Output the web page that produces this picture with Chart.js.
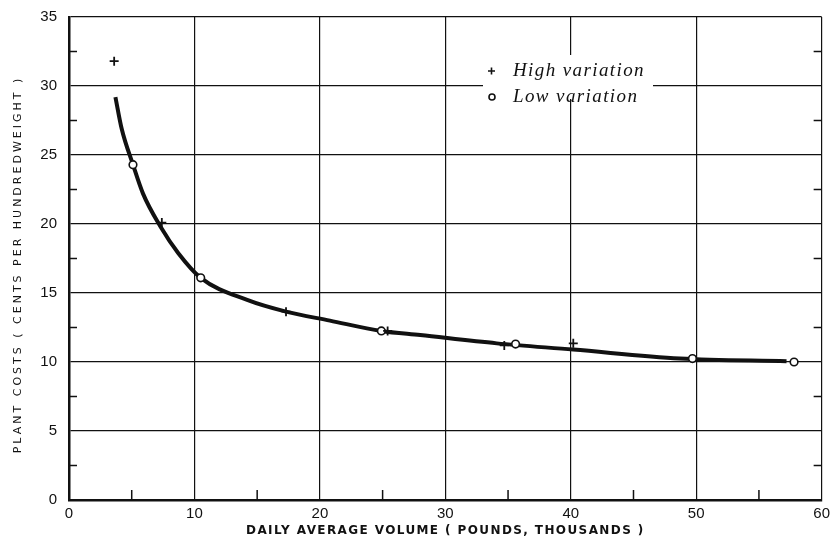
<!DOCTYPE html>
<html lang="en">
<head>
<meta charset="UTF-8" />
<title>Plant costs vs daily average volume</title>
<script src="https://cdn.jsdelivr.net/npm/chart.js"></script>
<style>
  html, body { margin: 0; padding: 0; background: #fff; }
  #wrap { width: 835px; height: 541px; }
</style>
</head>
<body>
<div id="wrap"><canvas id="chart" width="835" height="541"></canvas></div>
<script>
// values
const highX = [3.6, 7.4, 17.3, 25.4, 34.7, 40.2];
const highY = [31.8, 20.1, 13.65, 12.25, 11.2, 11.35];
const lowX = [5.1, 10.5, 24.9, 35.6, 49.7, 57.8];
const lowY = [24.3, 16.1, 12.25, 11.3, 10.25, 10.0];
const curveX = [3.7, 4.2, 5.1, 5.9, 7.3, 8.7, 10.5, 14.2, 17.3, 20.8, 24.9, 28.0, 34.1, 40.2, 48.7, 57.2];
const curveY = [29.2, 26.9, 24.3, 22.2, 19.8, 17.9, 16.1, 14.5, 13.65, 13.0, 12.25, 11.95, 11.35, 10.9, 10.25, 10.05];
const seriesNames = ["High variation", "Low variation"];
const xTitle = "DAILY AVERAGE VOLUME ( POUNDS, THOUSANDS )";
const yTitle = "PLANT COSTS ( CENTS PER HUNDREDWEIGHT )";

const toPts = (xs, ys) => xs.map((x, i) => ({ x: x, y: ys[i] }));
const ink = "#111";

// inside minor ticks, legend on the plot, spaced-out axis titles
const extras = {
  id: "extras",
  afterDatasetsDraw(chart) {
    const ctx = chart.ctx, a = chart.chartArea;
    const xs = chart.scales.x, ys = chart.scales.y;
    ctx.save();
    ctx.strokeStyle = ink;
    ctx.lineWidth = 1.5;
    ctx.beginPath();
    for (let v = 2.5; v < 35; v += 5) {
      const py = ys.getPixelForValue(v);
      ctx.moveTo(a.left, py); ctx.lineTo(a.left + 8, py);
      ctx.moveTo(a.right, py); ctx.lineTo(a.right - 8, py);
    }
    for (let v = 5; v < 60; v += 10) {
      const px = xs.getPixelForValue(v);
      ctx.moveTo(px, a.bottom); ctx.lineTo(px, a.bottom - 10);
    }
    ctx.stroke();

    // legend
    const lx = a.left + 422, ly = a.top + 54;
    ctx.fillStyle = "#fff";
    ctx.fillRect(lx - 8, ly - 16, 170, 44);
    ctx.fillStyle = ink;
    ctx.font = "italic 19px 'Liberation Serif', serif";
    ctx.letterSpacing = "1.4px";
    ctx.textBaseline = "middle";
    ctx.fillText(chart.data.datasets[0].label, lx + 22, ly);
    ctx.fillText(chart.data.datasets[1].label, lx + 22, ly + 26);
    ctx.lineWidth = 1.6;
    ctx.beginPath();
    ctx.moveTo(lx - 3, ly); ctx.lineTo(lx + 4, ly);
    ctx.moveTo(lx + 0.5, ly - 3.5); ctx.lineTo(lx + 0.5, ly + 3.5);
    ctx.stroke();
    ctx.beginPath();
    ctx.arc(lx + 1, ly + 26, 3, 0, Math.PI * 2);
    ctx.stroke();

    // axis titles
    ctx.textAlign = "center";
    ctx.font = "bold 12px 'DejaVu Sans', sans-serif";
    ctx.letterSpacing = "1.4px";
    ctx.fillText(xTitle, (a.left + a.right) / 2, 531);
    ctx.translate(18, (a.top + a.bottom) / 2 + 6);
    ctx.rotate(-Math.PI / 2);
    ctx.font = "11px 'DejaVu Sans', sans-serif";
    ctx.letterSpacing = "3px";
    ctx.fillText(yTitle, 0, 0);
    ctx.restore();
  }
};

new Chart(document.getElementById("chart"), {
  type: "scatter",
  data: {
    datasets: [
      {
        label: seriesNames[0],
        data: toPts(highX, highY),
        pointStyle: "cross",
        pointRadius: 4.5,
        pointBorderWidth: 1.8,
        borderColor: ink,
        backgroundColor: ink,
        order: 0
      },
      {
        label: seriesNames[1],
        data: toPts(lowX, lowY),
        pointStyle: "circle",
        pointRadius: 3.8,
        pointBorderWidth: 1.6,
        borderColor: ink,
        backgroundColor: "#fff",
        order: 0
      },
      {
        label: "fit",
        type: "line",
        data: toPts(curveX, curveY),
        showLine: true,
        borderColor: ink,
        borderWidth: 4,
        pointRadius: 0,
        cubicInterpolationMode: "monotone",
        fill: false,
        order: 1
      }
    ]
  },
  options: {
    responsive: false,
    animation: false,
    events: [],
    layout: { padding: { top: 17, right: 13, left: 0, bottom: 0 } },
    plugins: { legend: { display: false }, tooltip: { enabled: false } },
    scales: {
      x: {
        type: "linear",
        min: 0, max: 60,
        afterFit(s) { s.height = 41; },
        ticks: { stepSize: 10, color: ink, padding: 5, font: { family: "'Liberation Sans', sans-serif", size: 15 } },
        grid: { color: ink, lineWidth: 1.2, drawTicks: false },
        border: { color: ink, width: 2.5 }
      },
      y: {
        type: "linear",
        min: 0, max: 35,
        afterFit(s) { s.width = 69; s.paddingTop = 0; s.paddingBottom = 0; },
        ticks: { stepSize: 5, color: ink, padding: 12, font: { family: "'Liberation Sans', sans-serif", size: 15, lineHeight: 1 } },
        grid: { color: ink, lineWidth: 1.2, drawTicks: false },
        border: { color: ink, width: 2.5 }
      }
    }
  },
  plugins: [extras]
});
</script>
</body>
</html>
